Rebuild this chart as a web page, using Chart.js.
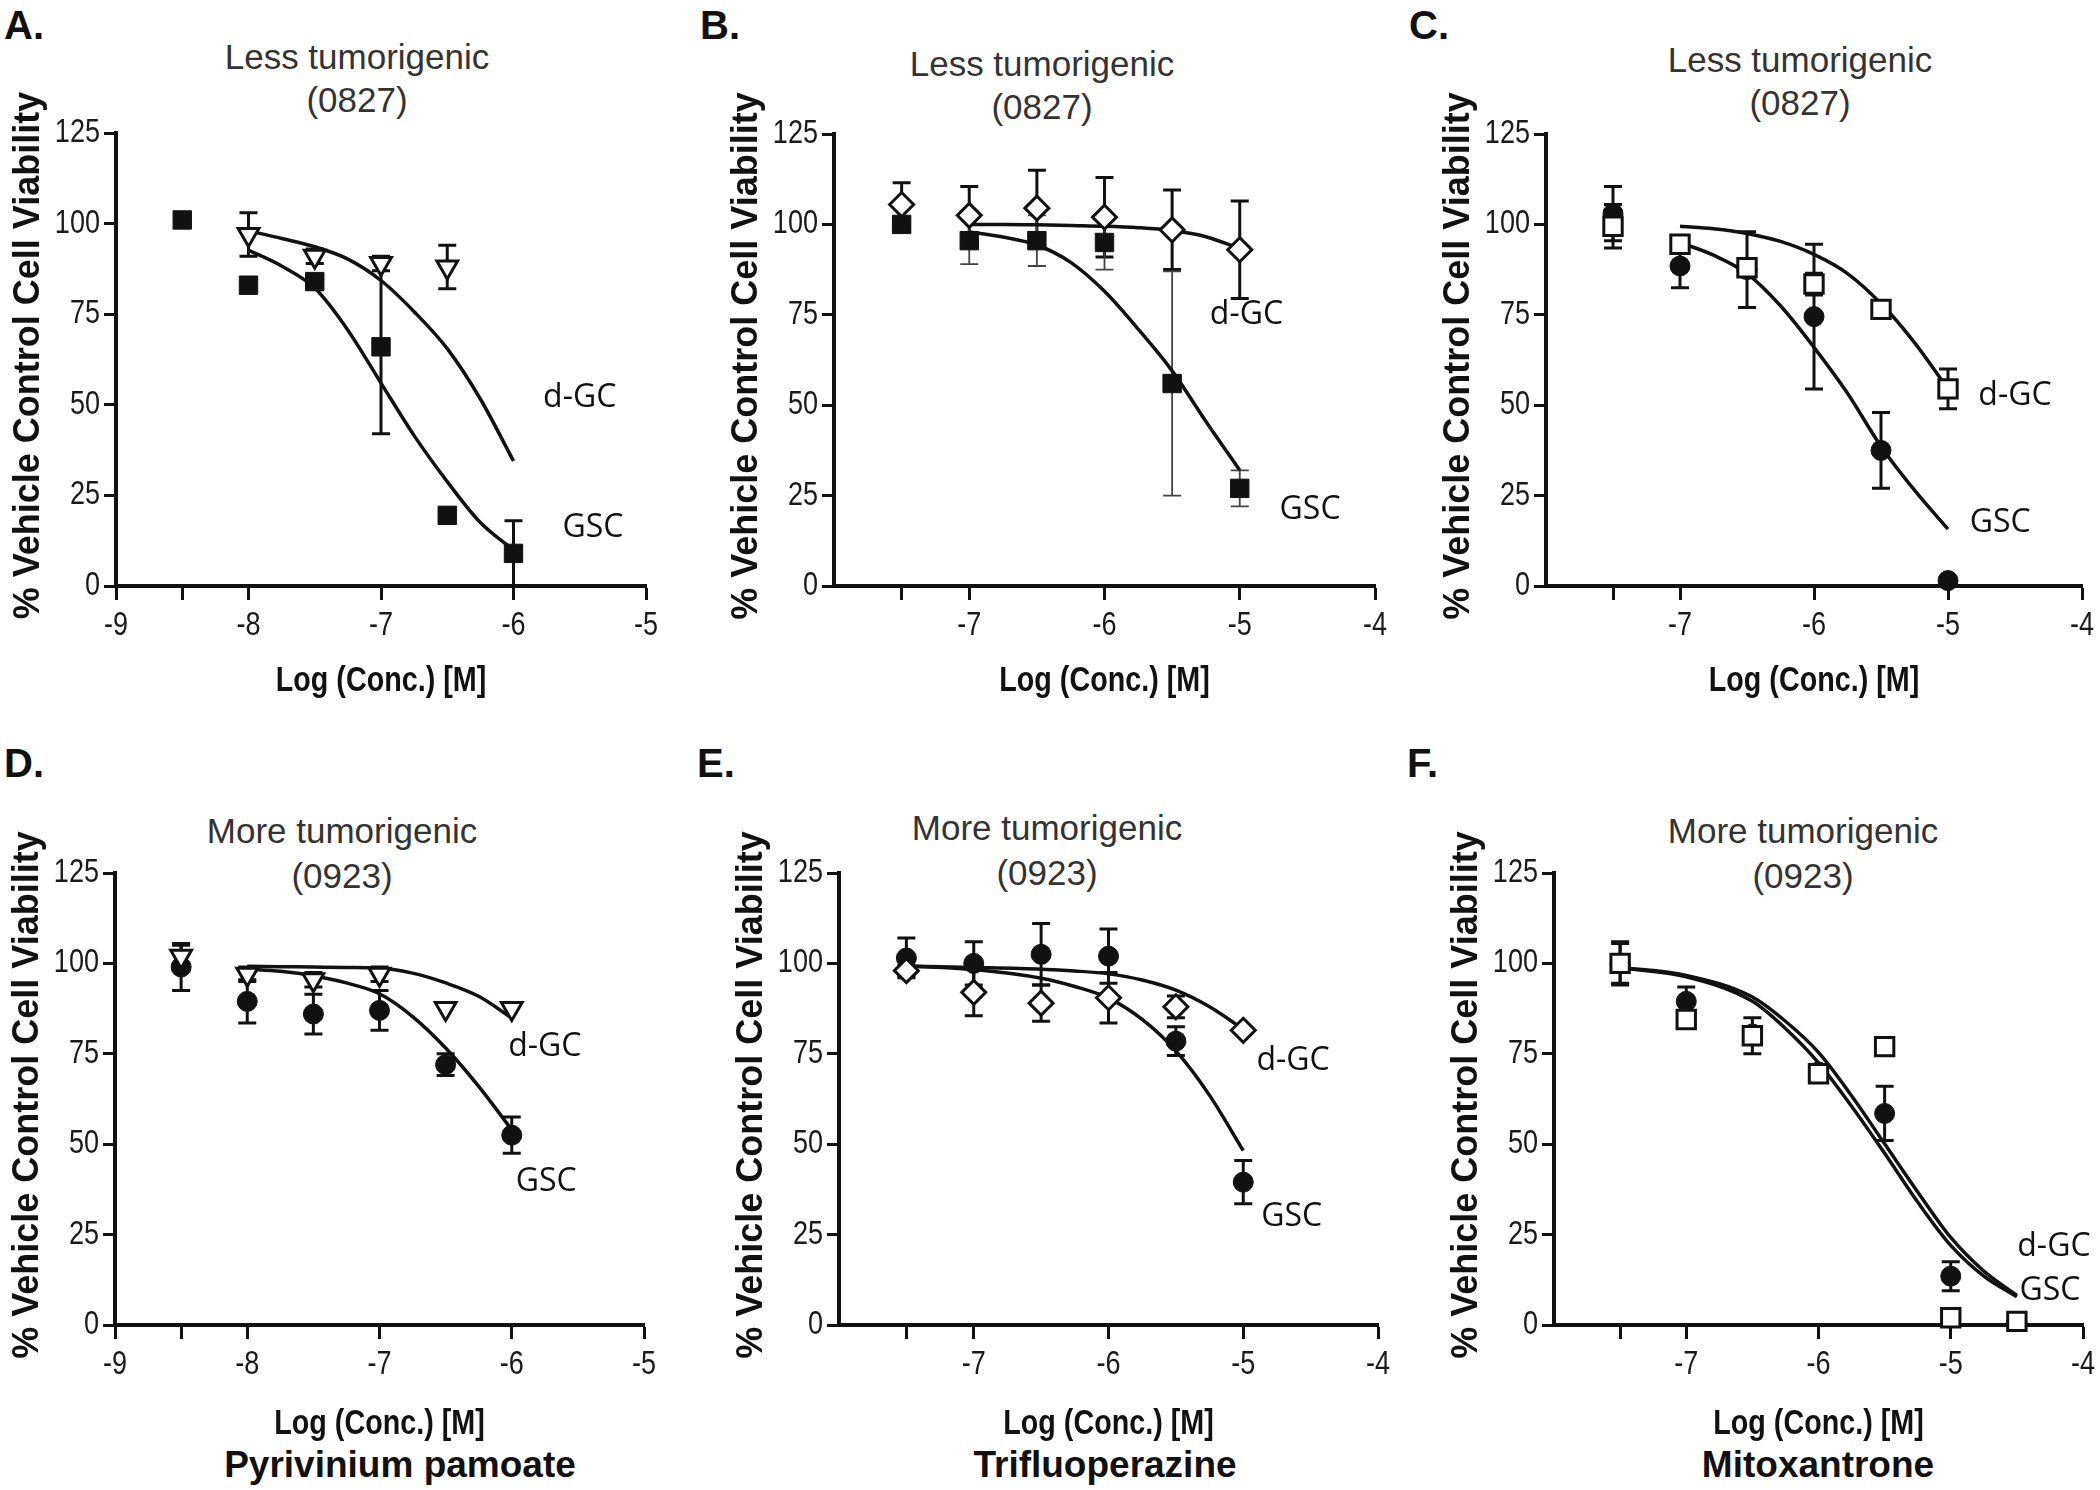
<!DOCTYPE html>
<html>
<head>
<meta charset="utf-8">
<script src="https://cdn.jsdelivr.net/npm/chart.js@4.4.1/dist/chart.umd.min.js"></script>
<style>
  body { margin: 0; background: #fff; }
  #fig { position: relative; width: 2100px; height: 1490px; background: #fff; overflow: hidden; font-family: "Liberation Sans", Arial, sans-serif; }
  #fig canvas { position: absolute; }
  .letter { position: absolute; font-weight: bold; font-size: 40px; line-height: 40px; color: #111; }
  .title { position: absolute; width: 400px; text-align: center; font-size: 35px; line-height: 43px; color: #333; }
  .title.low { line-height: 45px; }
  .drug { position: absolute; width: 500px; text-align: center; font-weight: bold; font-size: 37px; line-height: 44px; color: #111; }
</style>
</head>
<body>
<div id="fig">
  <div class="letter" style="left:4px;top:5px">A.</div>
  <div class="letter" style="left:700px;top:5px">B.</div>
  <div class="letter" style="left:1409px;top:5px">C.</div>
  <div class="letter" style="left:4px;top:743px">D.</div>
  <div class="letter" style="left:697px;top:743px">E.</div>
  <div class="letter" style="left:1407px;top:743px">F.</div>

  <div class="title" style="left:157px;top:35px">Less tumorigenic<br>(0827)</div>
  <div class="title" style="left:842px;top:42px">Less tumorigenic<br>(0827)</div>
  <div class="title" style="left:1600px;top:38px">Less tumorigenic<br>(0827)</div>
  <div class="title low" style="left:142px;top:808px">More tumorigenic<br>(0923)</div>
  <div class="title low" style="left:847px;top:805px">More tumorigenic<br>(0923)</div>
  <div class="title low" style="left:1603px;top:808px">More tumorigenic<br>(0923)</div>

  <div class="drug" style="left:150px;top:1443px">Pyrivinium pamoate</div>
  <div class="drug" style="left:855px;top:1443px">Trifluoperazine</div>
  <div class="drug" style="left:1568px;top:1443px">Mitoxantrone</div>
</div>

<script>
// axis ticks and titles
const yTicks = [0, 25, 50, 75, 100, 125];
const xTicksWide = [-9, -8.5, -8, -7, -6, -5];
const xTicksNarrow = [-7.5, -7, -6, -5, -4];
const unlabeled = [-8.5, -7.5];
const xTitleText = 'Log (Conc.) [M]';
const yTitleText = '% Vehicle Control Cell Viability';
const seriesNames = ['d-GC', 'GSC'];

// A. less tumorigenic, 0827
const aGscX = [-8.5, -8, -7.5, -7, -6.5, -6];
const aGscY = [101, 83, 84, 66, 19.5, 9];
const aGscErr = [0, 0, 0, 24, 0, 9];
const aDgcX = [-8, -7.5, -7, -6.5];
const aDgcY = [97, 91, 89, 88];
const aDgcErr = [6, 2, 2, 6];
const aFitX = [-8, -7.75, -7.5, -7.25, -7, -6.75, -6.5, -6.25, -6];
const aGscFit = [92.7, 88.3, 82.2, 70.6, 56.0, 41.5, 28.8, 17.5, 9.9];
const aDgcFit = [98.0, 95.9, 93.6, 90.2, 84.3, 75.7, 65.5, 51.6, 34.5];

// B. less tumorigenic, 0827
const bX = [-7.5, -7, -6.5, -6, -5.5, -5];
const bGscY = [100, 95.5, 95.5, 95, 56, 27];
const bGscErr = [2, 6.5, 7, 7.5, 31, 5];
const bDgcY = [105.5, 102.5, 104.5, 102, 98.5, 93];
const bDgcErr = [6, 8, 10.5, 11, 11, 13.5];
const bFitX = [-7, -6.75, -6.5, -6.25, -6, -5.75, -5.5, -5.25, -5];
const bGscFit = [97.9, 96.5, 94.3, 89.5, 81.5, 71, 59.5, 45.5, 32];
const bDgcFit = [100, 100, 99.9, 99.7, 99.5, 99.1, 98.3, 96.6, 93.3];

// C. less tumorigenic, 0827
const cX = [-7.5, -7, -6.5, -6, -5.5, -5];
const cGscY = [103, 88.5, 87.5, 74.5, 37.5, 1.5];
const cGscErr = [7.5, 6, 10.5, 20, 10.5, 0];
const cDgcY = [99.5, 94.5, 88, 83.5, 76.5, 54.5];
const cDgcErr = [6, 2, 0, 3, 2, 5.5];
const cFitX = [-7, -6.75, -6.5, -6.25, -6, -5.75, -5.5, -5.25, -5];
const cGscFit = [95, 91.5, 86.4, 77.5, 66, 53.3, 38.6, 26.5, 15.7];
const cDgcFit = [99.5, 98.8, 97.5, 95.3, 91.7, 86.4, 78.1, 67.3, 54.5];

// D. more tumorigenic, 0923 - pyrivinium pamoate
const dX = [-8.5, -8, -7.5, -7, -6.5, -6];
const dGscY = [99, 89.5, 86, 87, 72, 52.5];
const dGscErr = [6.5, 6, 5.5, 5.5, 3, 5];
const dDgcY = [102, 97, 95.5, 97, 87.5, 87.5];
const dDgcErr = [3, 2, 2, 2, 0, 0];
const dFitX = [-8, -7.75, -7.5, -7.25, -7, -6.75, -6.5, -6.25, -6];
const dGscFit = [98.4, 97.8, 96.6, 94.6, 91.6, 85.3, 76.6, 66, 54];
const dDgcFit = [99.2, 99.1, 99, 98.9, 98.7, 97.3, 94.6, 90.9, 84.9];

// E. more tumorigenic, 0923 - trifluoperazine
const eX = [-7.5, -7, -6.5, -6, -5.5, -5];
const eGscY = [101.5, 100, 102.5, 102, 78.5, 39.5];
const eGscErr = [5.5, 6, 8.5, 7.5, 4, 6];
const eDgcY = [98, 92, 89, 90.5, 88, 81.5];
const eDgcErr = [1.5, 6.5, 5, 7, 3, 0];
const eFitX = [-7.5, -7, -6.5, -6.25, -6, -5.75, -5.5, -5.25, -5];
const eGscFit = [99.3, 98.3, 95.9, 93.6, 90.4, 84.5, 75.8, 63.5, 48.2];
const eDgcFit = [99.3, 98.9, 98.4, 97.9, 97.1, 95.4, 92.6, 88, 81.8];

// F. more tumorigenic, 0923 - mitoxantrone
const fX = [-7.5, -7, -6.5, -6, -5.5, -5, -4.5];
const fGscY = [100, 89.5, 80.5, 70, 58.5, 13.5, 1];
const fGscErr = [6, 4, 0, 0, 7.5, 4, 0];
const fDgcY = [100, 84.5, 80, 69.5, 77, 2, 1];
const fDgcErr = [5.5, 0, 5, 2, 0, 0, 0];
const fFitX = [-7.5, -7, -6.5, -6.25, -6, -5.75, -5.5, -5.25, -5, -4.75, -4.5];
const fGscFit = [98.8, 96.3, 89.5, 82.0, 72.5, 60.5, 47.5, 34.0, 22.0, 13.5, 7.8];
const fDgcFit = [98.9, 96.7, 90.7, 84.0, 75.4, 63.4, 50.1, 36.8, 24.2, 14.9, 8.2];

const sans = '"Liberation Sans", Arial, sans-serif';
const toPts = (xs, ys) => xs.map((x, i) => ({ x: x, y: ys[i] }));

// marker looks
const filledRect = { pointStyle: 'rect', pointRadius: 13, pointBackgroundColor: '#111', pointBorderWidth: 1 };
const filledDot = { pointStyle: 'circle', pointRadius: 10, pointBackgroundColor: '#111', pointBorderWidth: 1 };
const openTri = { pointStyle: 'triangle', pointRotation: 180, pointRadius: 12, pointBackgroundColor: '#fff', pointBorderWidth: 3 };
const openDiamond = { pointStyle: 'rectRot', pointRadius: 12, pointBackgroundColor: '#fff', pointBorderWidth: 3 };
const openRect = { pointStyle: 'rect', pointRadius: 13, pointBackgroundColor: '#fff', pointBorderWidth: 3 };

const panels = [
  { L: 116, R: 647, T: 133, B: 586, min: -9, ticks: xTicksWide, xtY: 95,
    dgc: [aDgcX, aDgcY, aDgcErr, openTri], gsc: [aGscX, aGscY, aGscErr, filledRect],
    fit: [aFitX, aDgcFit, aGscFit], labels: [[-5.5, 52], [-5.4, 16]] },
  { L: 834, R: 1376, T: 134, B: 586, min: -8, ticks: xTicksNarrow, xtY: 95, thinGsc: true,
    dgc: [bX, bDgcY, bDgcErr, openDiamond], gsc: [bX, bGscY, bGscErr, filledRect],
    fit: [bFitX, bDgcFit, bGscFit], labels: [[-4.95, 75], [-4.48, 21]] },
  { L: 1546, R: 2084, T: 134, B: 586, min: -8, ticks: xTicksNarrow, xtY: 95,
    dgc: [cX, cDgcY, cDgcErr, openRect], gsc: [cX, cGscY, cGscErr, filledDot],
    fit: [cFitX, cDgcFit, cGscFit], labels: [[-4.5, 52.5], [-4.61, 17.5]] },
  { L: 115, R: 645, T: 873, B: 1325, min: -9, ticks: xTicksWide, xtY: 99,
    dgc: [dX, dDgcY, dDgcErr, openTri], gsc: [dX, dGscY, dGscErr, filledDot],
    fit: [dFitX, dDgcFit, dGscFit], labels: [[-5.75, 77], [-5.74, 39.5]] },
  { L: 839, R: 1379, T: 873, B: 1325, min: -8, ticks: xTicksNarrow, xtY: 99,
    dgc: [eX, eDgcY, eDgcErr, openDiamond], gsc: [eX, eGscY, eGscErr, filledDot],
    fit: [eFitX, eDgcFit, eGscFit], labels: [[-4.63, 73], [-4.64, 30]] },
  { L: 1554, R: 2085, T: 873, B: 1325, min: -8, ticks: xTicksNarrow, xtY: 99,
    dgc: [fX, fDgcY, fDgcErr, openRect], gsc: [fX, fGscY, fGscErr, filledDot],
    fit: [fFitX, fDgcFit, fGscFit], labels: [[-4.22, 21.5], [-4.25, 9.5]] }
];

// vertical error bars with caps, drawn under the markers
const errorBars = {
  id: 'errorBars',
  beforeDatasetsDraw(chart) {
    const { ctx, scales: { x, y } } = chart;
    ctx.save();
    chart.data.datasets.forEach((ds) => {
      if (!ds.errors) return;
      ctx.strokeStyle = ds.errorColor || '#111';
      ctx.lineWidth = ds.errorWidth || 3;
      ds.data.forEach((p, i) => {
        const e = ds.errors[i];
        if (!e) return;
        const px = x.getPixelForValue(p.x);
        const top = y.getPixelForValue(p.y + e);
        const bot = y.getPixelForValue(Math.max(p.y - e, 0));
        ctx.beginPath();
        ctx.moveTo(px, top); ctx.lineTo(px, bot);
        ctx.moveTo(px - 9, top); ctx.lineTo(px + 9, top);
        ctx.moveTo(px - 9, bot); ctx.lineTo(px + 9, bot);
        ctx.stroke();
      });
    });
    ctx.restore();
  }
};

// the y title is longer than the plot is tall, so it is drawn here unsqueezed
const yTitle = {
  id: 'yTitle',
  afterDraw(chart) {
    const { ctx, chartArea: a } = chart;
    ctx.save();
    ctx.translate(a.left - 87, (a.top + a.bottom) / 2 - 4);
    ctx.rotate(-Math.PI / 2);
    ctx.font = 'bold 36px ' + sans;
    ctx.fillStyle = '#111';
    ctx.textAlign = 'center';
    ctx.textBaseline = 'middle';
    ctx.fillText(yTitleText, 0, 0);
    ctx.restore();
  }
};

// the graph text in the source is horizontally condensed
function squeezed(ctx, text, px, py, font, align) {
  ctx.save();
  ctx.translate(px, py);
  ctx.scale(0.82, 1);
  ctx.font = font;
  ctx.textAlign = align;
  ctx.fillText(text, 0, 0);
  ctx.restore();
}

const fig = document.getElementById('fig');

panels.forEach((p) => {
  const padTop = 60, padRight = 14, yW = 110, xH = 120;
  const canvas = document.createElement('canvas');
  const w = p.R - p.L + yW + padRight;
  const h = p.B - p.T + padTop + xH;
  canvas.width = w;
  canvas.height = h;
  canvas.style.left = (p.L - yW) + 'px';
  canvas.style.top = (p.T - padTop) + 'px';
  canvas.style.width = w + 'px';
  canvas.style.height = h + 'px';
  fig.appendChild(canvas);

  const [dx, dy, de, dStyle] = p.dgc;
  const [gx, gy, ge, gStyle] = p.gsc;
  const [fx, dFit, gFit] = p.fit;

  const curveText = {
    id: 'curveText',
    afterDatasetsDraw(chart) {
      const { ctx, scales: { x, y } } = chart;
      ctx.save();
      ctx.font = '32px "Open Sans", ' + sans;
      ctx.fillStyle = '#111';
      ctx.textAlign = 'center';
      ctx.textBaseline = 'middle';
      p.labels.forEach((pos, i) => {
        ctx.fillText(seriesNames[i], x.getPixelForValue(pos[0]), y.getPixelForValue(pos[1]));
      });
      ctx.restore();
    }
  };

  const axisText = {
    id: 'axisText',
    afterDraw(chart) {
      const { ctx, chartArea: a, scales: { x, y } } = chart;
      ctx.save();
      ctx.fillStyle = '#1a1a1a';
      ctx.textBaseline = 'middle';
      x.ticks.forEach((t) => {
        if (unlabeled.includes(t.value)) return;
        squeezed(ctx, String(t.value), x.getPixelForValue(t.value), a.bottom + 40, '33px ' + sans, 'center');
      });
      y.ticks.forEach((t) => {
        squeezed(ctx, String(t.value), a.left - 16, y.getPixelForValue(t.value), '33px ' + sans, 'right');
      });
      ctx.fillStyle = '#111';
      squeezed(ctx, xTitleText, (a.left + a.right) / 2, a.bottom + p.xtY, 'bold 35px ' + sans, 'center');
      ctx.restore();
    }
  };

  new Chart(canvas, {
    type: 'line',
    data: {
      datasets: [
        Object.assign({ label: 'd-GC', data: toPts(dx, dy), errors: de, showLine: false,
          pointBorderColor: '#111', borderColor: '#111', clip: false }, dStyle),
        Object.assign({ label: 'GSC', data: toPts(gx, gy), errors: ge, showLine: false,
          pointBorderColor: '#111', borderColor: '#111', clip: false,
          errorWidth: p.thinGsc ? 1.8 : 3, errorColor: p.thinGsc ? '#444' : '#111' }, gStyle),
        { label: 'd-GC fit', data: toPts(fx, dFit), borderColor: '#111', borderWidth: 3.5,
          pointRadius: 0, cubicInterpolationMode: 'monotone', fill: false, clip: false },
        { label: 'GSC fit', data: toPts(fx, gFit), borderColor: '#111', borderWidth: 3.5,
          pointRadius: 0, cubicInterpolationMode: 'monotone', fill: false, clip: false }
      ]
    },
    options: {
      responsive: false,
      animation: false,
      devicePixelRatio: 1,
      events: [],
      layout: { padding: { top: padTop, right: padRight, left: 0, bottom: 0 } },
      plugins: { legend: { display: false }, tooltip: { enabled: false }, title: { display: false } },
      scales: {
        x: {
          type: 'linear',
          min: p.min,
          max: p.min + 4,
          afterBuildTicks: (s) => { s.ticks = p.ticks.map((v) => ({ value: v })); },
          afterFit: (s) => { s.height = xH; },
          ticks: { display: false },
          grid: { drawOnChartArea: false, drawTicks: true, tickLength: 14, tickWidth: 3, tickColor: '#111' },
          border: { display: true, color: '#111', width: 4 },
          title: { display: false }
        },
        y: {
          min: 0,
          max: 125,
          afterBuildTicks: (s) => { s.ticks = yTicks.map((v) => ({ value: v })); },
          afterFit: (s) => { s.width = yW; },
          ticks: { display: false },
          grid: { drawOnChartArea: false, drawTicks: true, tickLength: 12, tickWidth: 3, tickColor: '#111' },
          border: { display: true, color: '#111', width: 4 },
          title: { display: false }
        }
      }
    },
    plugins: [errorBars, curveText, yTitle, axisText]
  });
});
</script>
</body>
</html>
